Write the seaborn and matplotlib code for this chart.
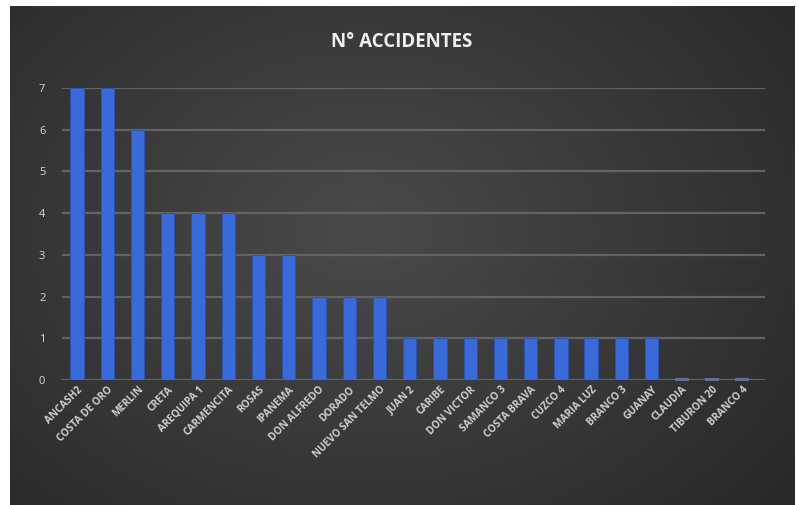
import numpy as np
import pandas as pd
import matplotlib
matplotlib.use("Agg")
import matplotlib.pyplot as plt
import seaborn as sns

categories = ["ANCASH2", "COSTA DE ORO", "MERLIN", "CRETA", "AREQUIPA 1", "CARMENCITA",
              "ROSAS", "IPANEMA", "DON ALFREDO", "DORADO", "NUEVO SAN TELMO", "JUAN 2",
              "CARIBE", "DON VICTOR", "SAMANCO 3", "COSTA BRAVA", "CUZCO 4", "MARIA LUZ",
              "BRANCO 3", "GUANAY", "CLAUDIA", "TIBURON 20", "BRANCO 4"]
accidents = [7, 7, 6, 4, 4, 4, 3, 3, 2, 2, 2, 1, 1, 1, 1, 1, 1, 1, 1, 1, 0, 0, 0]
yticks = [0, 1, 2, 3, 4, 5, 6, 7]
title = "N° ACCIDENTES"

df = pd.DataFrame({"barco": categories, "n": accidents})

sns.set_theme(style="dark")
plt.rcParams['font.family'] = ['Open Sans', 'DejaVu Sans']

W, H = 799, 505
fig = plt.figure(figsize=(W / 100, H / 100), dpi=100, facecolor="white")

# dark gradient background panel
bg = fig.add_axes([10 / W, 0, (795 - 10) / W, (H - 6) / H])
bg.set_axis_off()
yy, xx = np.mgrid[0:1:200j, 0:1:300j]
d = np.sqrt(((xx - 0.45) / 0.75) ** 2 + ((yy - 0.55) / 0.9) ** 2)
val = np.clip(0.29 - 0.14 * d, 0.14, 0.30)
img = np.dstack([val, val, val])
bg.imshow(img, aspect="auto", extent=[0, 1, 0, 1], origin="lower", interpolation="bicubic")

# plot axes
left_px, right_px = 62, 765
bot_px, top_px = 380, 88
ax = fig.add_axes([left_px / W, 1 - bot_px / H, (right_px - left_px) / W, (bot_px - top_px) / H])
ax.patch.set_alpha(0)

sns.barplot(data=df, x="barco", y="n", ax=ax, color="#3a6ad8", width=0.44,
            saturation=1, edgecolor="#2a52b8", linewidth=0.6, zorder=3)

# flat caps for zero-valued bars (3D base look)
zero = df[df["n"] == 0]
ax.scatter(zero.index, zero["n"], marker="_", s=110, color="#5f6f9a", lw=3, zorder=4)

ax.set_xlim(-0.5, 22.75)
ax.set_ylim(0, 7)
ax.set_yticks(yticks)
for y in yticks:
    ax.axhline(y, color="#636363", lw=1.6, zorder=1)
ax.grid(False)
for s in ax.spines.values():
    s.set_visible(False)
ax.set_xlabel("")
ax.set_ylabel("")
ax.tick_params(axis="y", colors="#d8d8d8", labelsize=8, length=0, pad=12)
ax.tick_params(axis="x", colors="#d0d0d0", labelsize=7.3, length=0, pad=3)
for lab in ax.get_xticklabels():
    lab.set_rotation(45)
    lab.set_ha("right")
    lab.set_rotation_mode("anchor")
    lab.set_fontweight("bold")
    lab.set_color("#cfcfcf")

fig.text(0.503, 1 - 42 / H, title, ha="center", va="center", fontsize=13.5,
         fontweight="bold", color="#f0f0f0")

fig.savefig("out.png", dpi=100, facecolor="white")
